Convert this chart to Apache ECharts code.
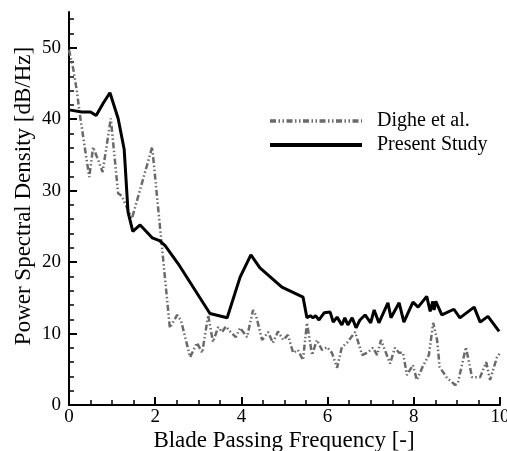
<!DOCTYPE html>
<html>
<head>
<meta charset="utf-8">
<script src="https://cdn.jsdelivr.net/npm/echarts@6/dist/echarts.min.js"></script>
<style>
  html, body { margin: 0; padding: 0; background: #fff; }
  #chart { width: 507px; height: 451px; }
</style>
</head>
<body>
<div id="chart"></div>
<script>
// Blade passing frequency [-] and PSD [dB/Hz] for each data set
const digheFreq = [0, 0.1, 0.18, 0.26, 0.47, 0.56, 0.78, 0.97, 1.14, 1.22, 1.46, 1.93, 2.34, 2.51, 2.6, 2.81, 2.97, 3.09, 3.23, 3.34, 3.46, 3.55, 3.64, 3.75, 3.87, 3.97, 4.13, 4.27, 4.34, 4.48, 4.62, 4.73, 4.85, 4.97, 5.08, 5.2, 5.31, 5.43, 5.52, 5.64, 5.75, 5.87, 5.99, 6.1, 6.22, 6.33, 6.45, 6.64, 6.8, 6.92, 7.05, 7.15, 7.24, 7.45, 7.56, 7.66, 7.75, 7.84, 7.98, 8.07, 8.2, 8.35, 8.45, 8.54, 8.6, 8.77, 8.96, 9.02, 9.21, 9.35, 9.54, 9.68, 9.77, 9.93, 10];
const dighePsd = [49.7, 47, 44, 40.3, 31.9, 36.1, 32.6, 40.1, 29.6, 29.3, 26.1, 36.1, 10.8, 12.6, 11.8, 6.7, 8.7, 7.3, 12.6, 8.8, 10.9, 10.2, 11, 10.2, 9.5, 10.8, 9.5, 13.3, 12.5, 9.1, 10.2, 8.7, 10.3, 9.1, 9.8, 7.3, 7.7, 6.3, 11.5, 7, 9.1, 7.7, 8.1, 7.3, 5.2, 8.1, 8.7, 10.2, 7, 7.3, 8, 7, 9.1, 5.8, 8, 7.3, 7.3, 4.2, 5.6, 3.5, 5.3, 7, 11.5, 9.1, 5.3, 3.8, 2.8, 3, 8.1, 3.9, 3.9, 6, 3.5, 6.7, 7.3];

const presentFreq = [0, 0.3, 0.5, 0.63, 0.8, 0.95, 1.14, 1.28, 1.37, 1.48, 1.65, 1.93, 2.1, 2.23, 2.53, 3.27, 3.67, 3.97, 4.22, 4.43, 4.94, 5.43, 5.52, 5.6, 5.66, 5.72, 5.8, 5.92, 6.06, 6.13, 6.22, 6.33, 6.4, 6.47, 6.57, 6.66, 6.75, 6.87, 7.0, 7.08, 7.19, 7.4, 7.47, 7.66, 7.77, 7.98, 8.1, 8.3, 8.38, 8.44, 8.47, 8.51, 8.65, 8.93, 9.07, 9.4, 9.54, 9.72, 9.98];
const presentPsd = [41.3, 41.0, 41.0, 40.5, 42.3, 43.7, 40.1, 35.8, 27, 24.3, 25.2, 23.4, 23, 22.3, 19.8, 12.8, 12.2, 17.9, 21, 19.2, 16.5, 15.1, 12.2, 12.5, 12.2, 12.5, 11.9, 12.9, 13, 11.6, 12.3, 11.2, 12.2, 11.2, 12.2, 10.8, 11.9, 12.6, 11.5, 13.3, 11.5, 14.3, 12.2, 14.3, 11.6, 14.4, 13.7, 15.2, 13.1, 14.5, 13.3, 14.5, 12.6, 13.4, 12.2, 13.7, 11.6, 12.4, 10.3];

// Axis ticks
const yMajorTicks = [0, 10, 20, 30, 40, 50];
const yMinorTicks = [2, 4, 6, 8, 12, 14, 16, 18, 22, 24, 26, 28, 32, 34, 36, 38, 42, 44, 46, 48, 52, 54];

const seriesNames = ['Dighe et al.', 'Present Study'];

const pairs = (xs, ys) => xs.map((x, i) => [x, ys[i]]);

const serif = 'Liberation Serif, Times New Roman, serif';
const clear = 'rgba(0,0,0,0)';
const digheDash = [6, 2.5, 1.5, 2.5, 1.5, 2.5];

const chart = echarts.init(document.getElementById('chart'), null, { renderer: 'canvas' });

chart.setOption({
  animation: false,
  backgroundColor: '#ffffff',
  grid: { left: 69, right: 7, top: 12, bottom: 46, containLabel: false, outerBoundsMode: 'none' },
  xAxis: {
    type: 'value', min: 0, max: 10, interval: 2,
    axisLine: { lineStyle: { color: '#000', width: 2 } },
    axisTick: { inside: true, length: 8, lineStyle: { color: '#000', width: 2 } },
    minorTick: { show: true, splitNumber: 4, length: 5, lineStyle: { color: '#000', width: 1.5 } },
    axisLabel: { color: '#000', fontFamily: serif, fontSize: 19, margin: 3, hideOverlap: false },
    splitLine: { show: false }
  },
  yAxis: [
    {
      type: 'value', min: 0, max: 55, interval: 10,
      axisLine: { lineStyle: { color: '#000', width: 2 } },
      axisTick: { inside: true, length: 8, customValues: yMajorTicks, lineStyle: { color: '#000', width: 2 } },
      axisLabel: { color: '#000', fontFamily: serif, fontSize: 19, margin: 8, customValues: yMajorTicks },
      splitLine: { show: false }
    },
    {
      type: 'value', min: 0, max: 55, position: 'left',
      axisLine: { show: false },
      axisTick: { inside: true, length: 5, customValues: yMinorTicks, lineStyle: { color: '#000', width: 1.5 } },
      axisLabel: { show: false },
      splitLine: { show: false }
    }
  ],
  legend: {
    orient: 'vertical', left: 263, top: 106,
    itemWidth: 92, itemHeight: 14, itemGap: 4,
    itemStyle: { color: clear, borderColor: clear, opacity: 0 },
    textStyle: { color: '#000', fontFamily: serif, fontSize: 20, padding: [0, 0, 0, 10] },
    data: [
      { name: seriesNames[0], lineStyle: { color: '#6a6a6a', width: 3.5, type: digheDash } },
      { name: seriesNames[1], lineStyle: { color: '#000', width: 4 } }
    ]
  },
  graphic: [
    {
      type: 'text', x: 24, y: 196, rotation: Math.PI / 2,
      style: { text: 'Power Spectral Density [dB/Hz]', fill: '#000', font: '23px ' + serif, align: 'center', verticalAlign: 'middle' }
    },
    {
      type: 'text', x: 284, y: 441,
      style: { text: 'Blade Passing Frequency [-]', fill: '#000', font: '23px ' + serif, align: 'center', verticalAlign: 'middle' }
    }
  ],
  series: [
    {
      name: seriesNames[0], type: 'line', showSymbol: false, symbol: 'none',
      data: pairs(digheFreq, dighePsd),
      lineStyle: { color: '#6a6a6a', width: 2.5, type: digheDash },
      itemStyle: { color: clear },
      z: 2
    },
    {
      name: seriesNames[1], type: 'line', showSymbol: false, symbol: 'none',
      data: pairs(presentFreq, presentPsd),
      lineStyle: { color: '#000', width: 3 },
      itemStyle: { color: clear },
      z: 3
    }
  ]
});
</script>
</body>
</html>
